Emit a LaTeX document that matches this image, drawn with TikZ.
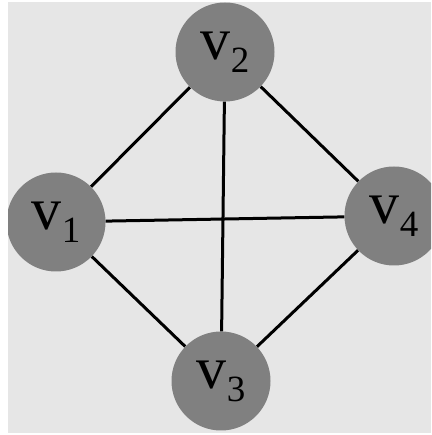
\documentclass[tikz,border=0pt]{standalone}
\usepackage{fontspec}
\setmainfont{Liberation Serif}
\definecolor{vgray}{HTML}{808080}
\definecolor{bggray}{HTML}{E6E6E6}
\newcommand{\vlabel}[1]{v\raisebox{-13pt}{\fontsize{37}{37}\selectfont #1}}

\begin{document}
\begin{tikzpicture}[x=1pt,y=1pt,
  vert/.style={circle,fill=vgray,minimum size=99pt,inner sep=0pt,font=\fontsize{60}{60}\selectfont},
  edge/.style={line width=3pt}]
\useasboundingbox (0,0) rectangle (431,435);
\fill[bggray] (8,2) rectangle (431,433);
\begin{scope}
\clip (8,2) rectangle (431,433);
\node[vert] (v1) at (56,213) {\vlabel{1}};
\node[vert] (v2) at (225,383) {\vlabel{2}};
\node[vert] (v3) at (221,54) {\vlabel{3}};
\node[vert] (v4) at (394,219) {\vlabel{4}};
\draw[edge] (v1) -- (v2); \draw[edge] (v2) -- (v4); \draw[edge] (v1) -- (v4);
\draw[edge] (v2) -- (v3); \draw[edge] (v1) -- (v3); \draw[edge] (v3) -- (v4);
\end{scope}
\end{tikzpicture}
\end{document}
